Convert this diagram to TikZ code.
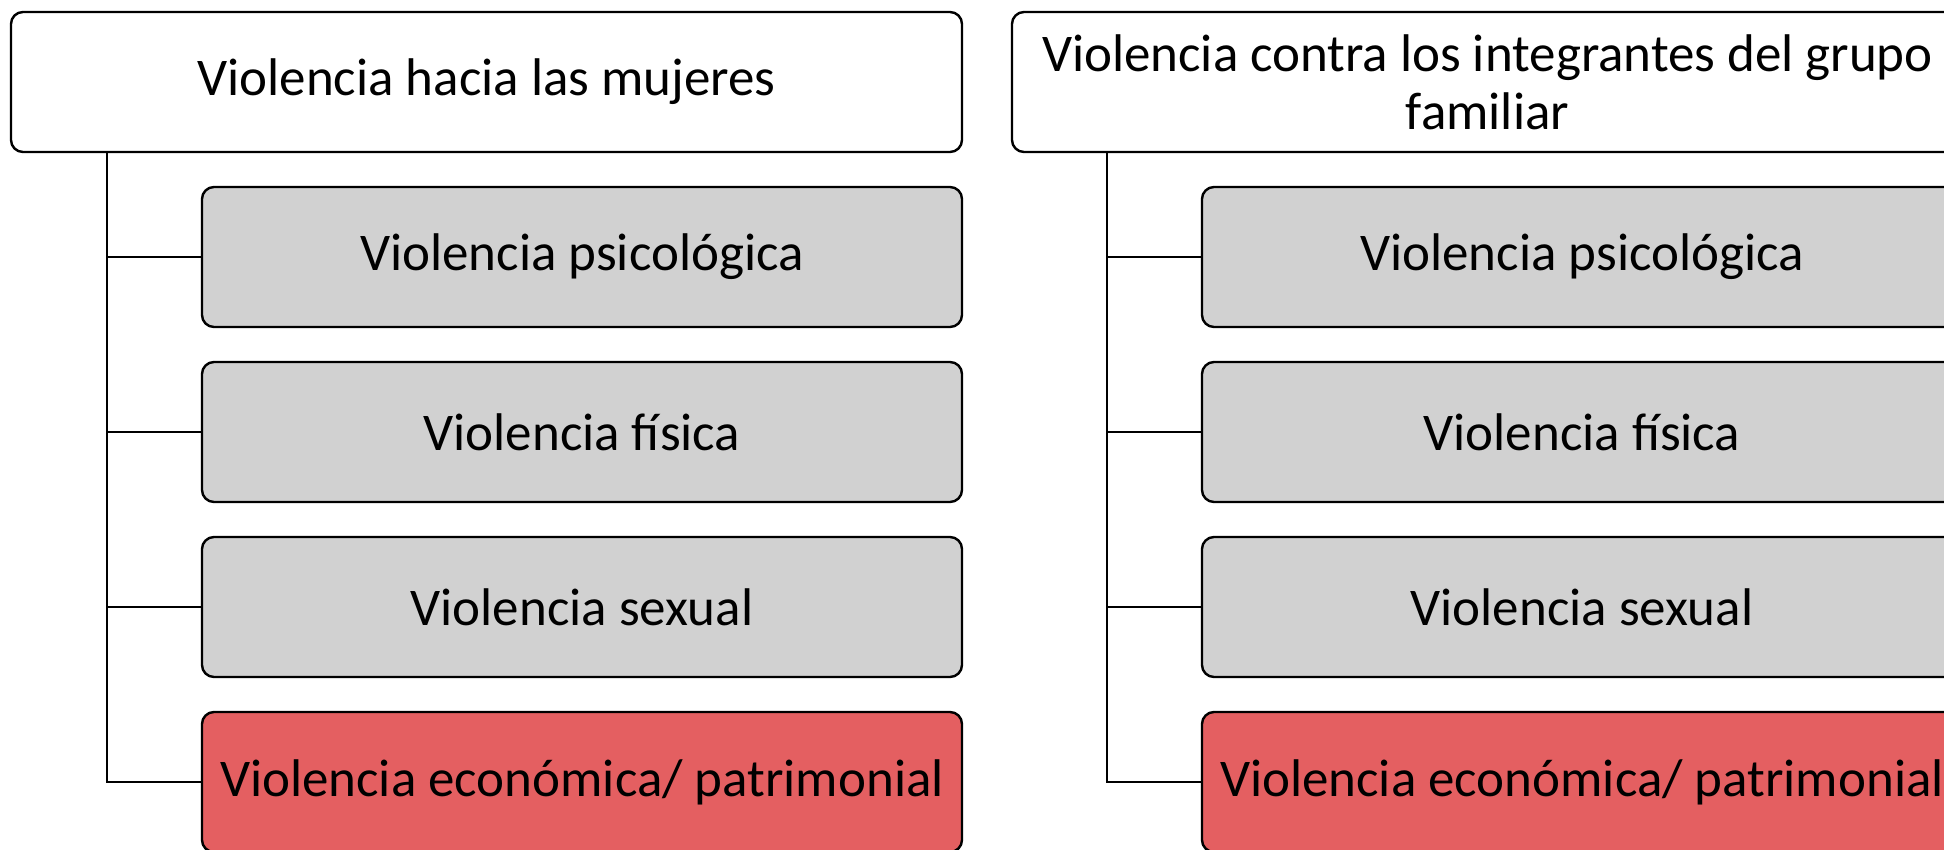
\documentclass[tikz,border=0pt]{standalone}
\usepackage{fontspec}
\setmainfont{Carlito}
\definecolor{boxgray}{HTML}{D1D1D1}
\definecolor{boxred}{HTML}{E45F61}
\begin{document}
\begin{tikzpicture}[x=1pt,y=-1pt,
  basebox/.style={draw=black, line width=2.4pt, rounded corners=12pt, inner sep=0pt,
    minimum height=140pt, align=center, font=\fontsize{53}{58}\selectfont},
  topbox/.style={basebox, fill=white, minimum width=951pt},
  graybox/.style={basebox, fill=boxgray, minimum width=760pt},
  redbox/.style={basebox, fill=boxred, minimum width=760pt},
  conn/.style={draw=black, line width=2.4pt}]
\clip (0,0) rectangle (1944,849);
\fill[white] (0,0) rectangle (1944,849);
% left tree
\node[topbox] (lt) at (486.5,82) {Violencia hacia las mujeres};
\node[graybox] (l1) at (582,257) {Violencia psicológica};
\node[graybox] (l2) at (582,432) {Violencia física};
\node[graybox] (l3) at (582,607) {Violencia sexual};
\node[redbox]  (l4) at (582,782) {Violencia económica/ patrimonial};
\coordinate (lx) at (107,152);
\draw[conn] (lx) |- (l1.west);
\draw[conn] (lx) |- (l2.west);
\draw[conn] (lx) |- (l3.west);
\draw[conn] (lx) |- (l4.west);
% right tree
\node[topbox] (rt) at (1487.5,82) {Violencia contra los integrantes del grupo\\familiar};
\node[graybox] (r1) at (1582,257) {Violencia psicológica};
\node[graybox] (r2) at (1582,432) {Violencia física};
\node[graybox] (r3) at (1582,607) {Violencia sexual};
\node[redbox]  (r4) at (1582,782) {Violencia económica/ patrimonial};
\coordinate (rx) at (1107,152);
\draw[conn] (rx) |- (r1.west);
\draw[conn] (rx) |- (r2.west);
\draw[conn] (rx) |- (r3.west);
\draw[conn] (rx) |- (r4.west);
\end{tikzpicture}
\end{document}
